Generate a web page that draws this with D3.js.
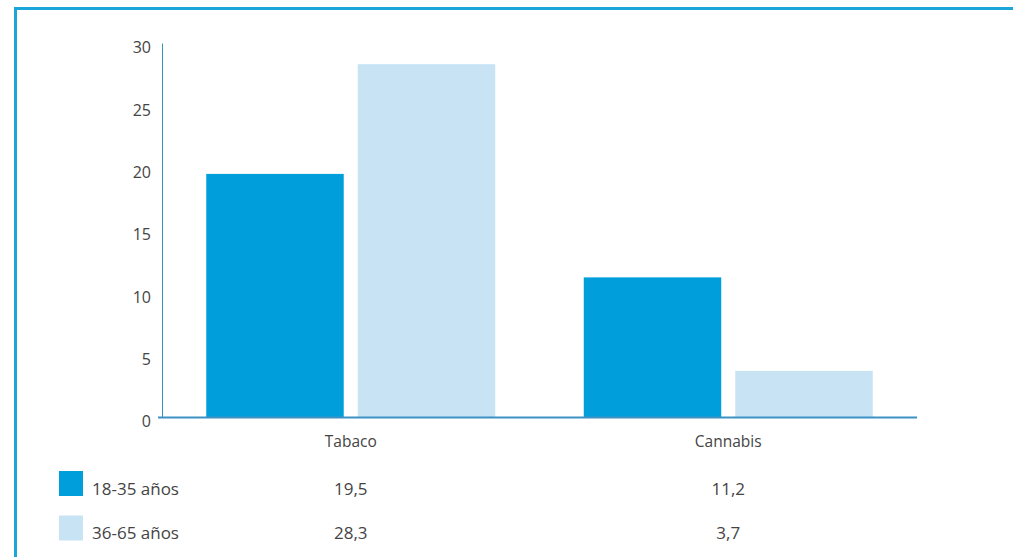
<!DOCTYPE html>
<html lang="es">
<head>
<meta charset="utf-8">
<title>Consumo por edad</title>
<style>
  body { margin: 0; background: #fff; }
  svg { display: block; }
</style>
<script src="https://d3js.org/d3.v7.min.js"></script>
</head>
<body>
<script>
// data
var categories = ["Tabaco", "Cannabis"];
var groups = ["18-35 años", "36-65 años"];
var young = [19.5, 11.2];
var older = [28.3, 3.7];
var yTicks = [0, 5, 10, 15, 20, 25, 30];

var series = [young, older];
var colors = ["#009fdb", "#c7e3f4"];

var w = 1013, h = 557;
var svg = d3.select("body").append("svg")
    .attr("width", w)
    .attr("height", h);

// frame
svg.append("path")
   .attr("d", "M15.5," + h + "V8.5H" + w)
   .attr("fill", "none")
   .attr("stroke", "#1ba5d8")
   .attr("stroke-width", 3);

var x0 = d3.scaleBand()
    .domain(categories)
    .range([162, 917])
    .paddingInner(0.2345)
    .paddingOuter(0.11725);

var x1 = d3.scaleBand()
    .domain(groups)
    .range([0, x0.bandwidth()])
    .paddingInner(0.0927);

var y = d3.scaleLinear()
    .domain([0, 30])
    .range([417, 43]);

var font = "'Open Sans', Lato, sans-serif";
var textColor = "#444";

// bars
categories.forEach(function (c, i) {
  var g = svg.append("g").attr("transform", "translate(" + x0(c) + ",0)");
  g.selectAll("rect")
   .data(groups)
   .enter()
   .append("rect")
   .attr("x", function (d) { return x1(d); })
   .attr("width", x1.bandwidth())
   .attr("y", function (d, j) { return y(series[j][i]); })
   .attr("height", function (d, j) { return y(0) - y(series[j][i]); })
   .attr("fill", function (d, j) { return colors[j]; });
});

// y axis
var yAxis = svg.append("g")
    .attr("transform", "translate(162,0)")
    .call(d3.axisLeft(y).tickValues(yTicks).tickSize(0).tickPadding(11));
yAxis.select(".domain").attr("stroke", "#3d92c4").attr("stroke-width", 1);
yAxis.selectAll("text")
     .attr("dy", "0.62em")
     .style("font-family", font)
     .style("font-size", "16px")
     .attr("fill", textColor);

// x axis line
svg.append("line")
   .attr("x1", 158).attr("x2", 917)
   .attr("y1", y(0) + 0.5).attr("y2", y(0) + 0.5)
   .attr("stroke", "#3d92c4")
   .attr("stroke-width", 2);

// category labels
svg.selectAll("text.cat")
   .data(categories)
   .enter()
   .append("text")
   .attr("class", "cat")
   .attr("x", function (d) { return x0(d) + x0.bandwidth() / 2; })
   .attr("y", 447)
   .attr("text-anchor", "middle")
   .style("font-family", font)
   .style("font-size", "15.5px")
   .attr("fill", textColor)
   .text(function (d) { return d; });

// data table with legend
var rowY = [483.5, 528];
groups.forEach(function (gname, j) {
  svg.append("rect")
     .attr("x", 59).attr("y", rowY[j] - 12.5)
     .attr("width", 24).attr("height", 25)
     .attr("fill", colors[j]);
  svg.append("text")
     .attr("x", 92).attr("y", rowY[j] + 11)
     .style("font-family", font)
     .style("font-size", "17px")
     .attr("fill", textColor)
     .text(gname);
  svg.selectAll("text.val" + j)
     .data(series[j])
     .enter()
     .append("text")
     .attr("x", function (d, i) { return x0(categories[i]) + x0.bandwidth() / 2; })
     .attr("y", rowY[j] + 11)
     .attr("text-anchor", "middle")
     .style("font-family", font)
     .style("font-size", "17px")
     .attr("fill", textColor)
     .text(function (d) { return String(d).replace(".", ","); });
});
</script>
</body>
</html>
